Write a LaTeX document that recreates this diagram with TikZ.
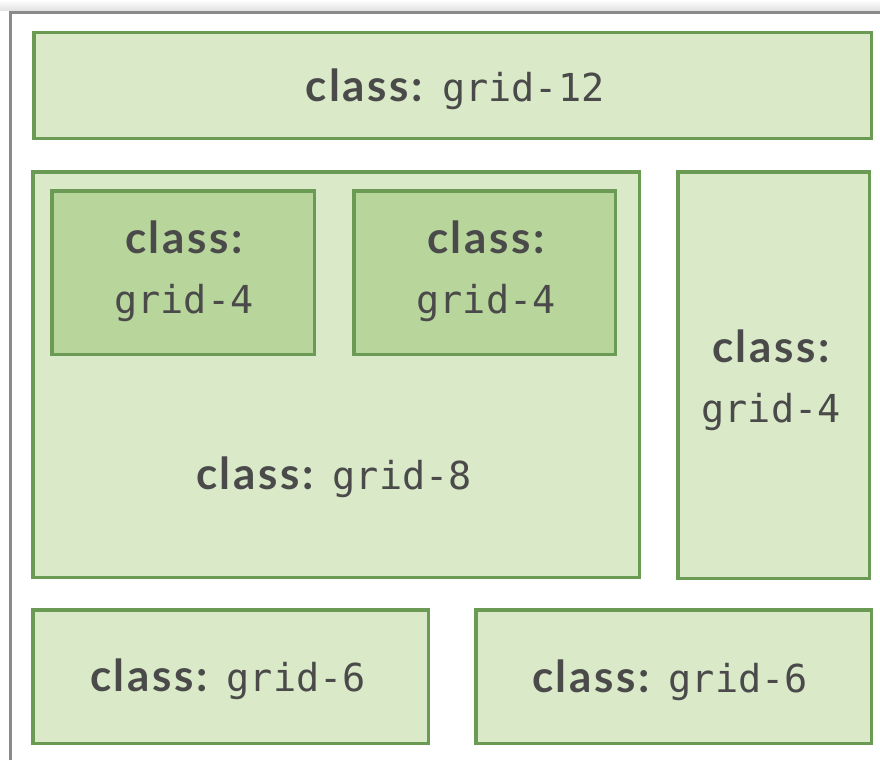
\documentclass[tikz,border=0pt]{standalone}
\usepackage{fontspec}
\setmainfont{Lato}
\setmonofont{DejaVu Sans Mono}
\newfontfamily\clsfont[LetterSpace=6]{Lato}
\definecolor{cellfill}{HTML}{DAEAC8}
\definecolor{innerfill}{HTML}{B8D59C}
\definecolor{celledge}{HTML}{6B9A55}
\definecolor{labeltext}{HTML}{4A4A4A}
\definecolor{framegray}{HTML}{8A8A8A}
\tikzset{
  cell/.style={draw=celledge, line width=3.5pt, fill=cellfill,
    anchor=north west, inner sep=0pt, outer sep=0pt},
  innercell/.style={cell, fill=innerfill},
  lbl/.style={text=labeltext, inner sep=0pt, align=center, font=\fontsize{44}{60}\selectfont}
}
\newcommand{\cls}{{\clsfont\bfseries class:}}
\newcommand{\gridname}[1]{{\fontsize{38.5}{60}\selectfont\texttt{#1}}}
\begin{document}
\begin{tikzpicture}[x=1pt,y=-1pt]
\useasboundingbox (0,0) rectangle (880,760);
\fill[white] (0,0) rectangle (880,760);
\shade[top color=white, bottom color=black!12] (0,0) rectangle (880,11);
\draw[framegray, line width=3pt] (10,760) coordinate (fl) -- (10,13) coordinate (fc) -- (880,13) coordinate (fr);
% boxes
\node[cell, minimum width=837.5pt, minimum height=105.5pt] (g12) at (33.75,32.75) {};
\node[cell, minimum width=606.5pt, minimum height=405.5pt] (g8) at (32.75,171.75) {};
\node[innercell, minimum width=262.5pt, minimum height=163.5pt] (g4a) at (51.75,190.75) {};
\node[innercell, minimum width=261.5pt, minimum height=163.5pt] (g4b) at (353.75,190.75) {};
\node[cell, minimum width=191.5pt, minimum height=406.5pt] (g4c) at (677.75,171.75) {};
\node[cell, minimum width=395.5pt, minimum height=133.5pt] (g6a) at (32.75,609.75) {};
\node[cell, minimum width=395.5pt, minimum height=133.5pt] (g6b) at (475.75,609.75) {};
% labels
\node[lbl] (g12l) at (455,89) {\cls\hspace{4pt} \gridname{grid-12}};
\node[lbl] (g8l) at (334,477) {\cls\hspace{4pt} \gridname{grid-8}};
\node[lbl] (g4al) at (184,271) {\cls\\\gridname{grid-4}};
\node[lbl] (g4bl) at (486,271) {\cls\\\gridname{grid-4}};
\node[lbl] (g4cl) at (771,380) {\cls\\\gridname{grid-4}};
\node[lbl] (g6al) at (228,679) {\cls\hspace{4pt} \gridname{grid-6}};
\node[lbl] (g6bl) at (670,680) {\cls\hspace{4pt} \gridname{grid-6}};
\end{tikzpicture}
\end{document}
